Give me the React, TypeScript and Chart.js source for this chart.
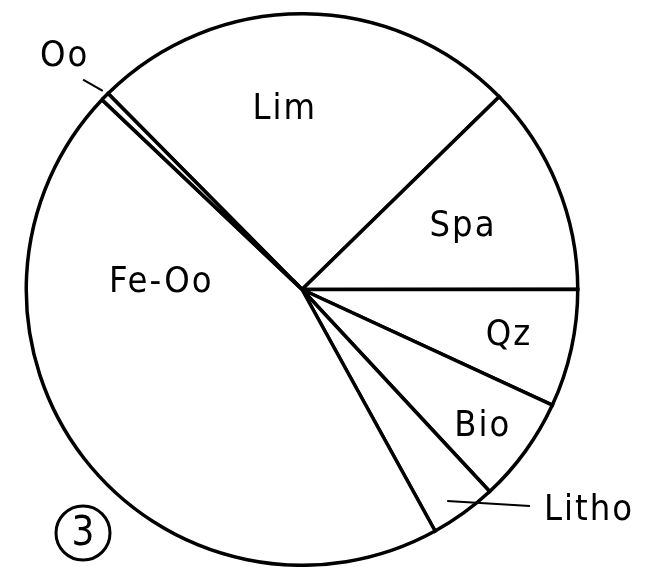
import React, { useEffect, useRef } from "react";
import { Chart, registerables } from "chart.js";

Chart.register(...registerables);

const categories = ["Lim", "Spa", "Qz", "Bio", "Litho", "Fe-Oo", "Oo"];
const values = [25.1, 12.3, 6.9, 6.2, 3.9, 45.1, 0.5];
const figureNumber = "3";

// label placement (offset from slice mid-angle in degrees, radius fraction)
const labelPlacement: Record<string, { dA: number; r: number; leader?: [number, number, number, number] }> = {
  Lim: { dA: -6.2, r: 0.66 },
  Spa: { dA: 0.4, r: 0.625 },
  Qz: { dA: 0, r: 0.765 },
  Bio: { dA: 1.1, r: 0.817 },
  "Fe-Oo": { dA: 40.8, r: 0.515 },
  Oo: { dA: 0, r: 1.21, leader: [-0.6, 1.1, 0.5, 1.02] },
  Litho: { dA: -16.5, r: 1.31, leader: [-10.6, 1.14, 1.4, 0.93] },
};

const FONT = '36px "DejaVu Sans Condensed", "DejaVu Sans", sans-serif';

const labelsPlugin = {
  id: "sliceLabels",
  afterDatasetsDraw(chart: any) {
    const ctx: CanvasRenderingContext2D = chart.ctx;
    const meta = chart.getDatasetMeta(0);
    ctx.save();
    ctx.fillStyle = "#000";
    ctx.strokeStyle = "#000";
    ctx.font = FONT;
    (ctx as any).letterSpacing = "2px";
    ctx.textAlign = "center";
    ctx.textBaseline = "middle";
    meta.data.forEach((arc: any, i: number) => {
      const name = categories[i];
      const p = labelPlacement[name];
      if (!p) return;
      const { x, y, startAngle, endAngle, outerRadius } = arc.getProps(
        ["x", "y", "startAngle", "endAngle", "outerRadius"],
        true
      );
      const mid = (startAngle + endAngle) / 2;
      const pt = (dA: number, rf: number) => {
        const a = mid + (dA * Math.PI) / 180;
        return [x + Math.cos(a) * outerRadius * rf, y + Math.sin(a) * outerRadius * rf];
      };
      const [lx, ly] = pt(p.dA, p.r);
      ctx.fillText(name, lx + 1, ly + 1);
      if (p.leader) {
        const [a1, r1, a2, r2] = p.leader;
        const [x1, y1] = pt(a1, r1);
        const [x2, y2] = pt(a2, r2);
        ctx.lineWidth = 2;
        ctx.beginPath();
        ctx.moveTo(x1, y1);
        ctx.lineTo(x2, y2);
        ctx.stroke();
      }
    });
    // figure number in a circle, bottom-left of the chart area
    const ca = chart.chartArea;
    const cx = ca.left + 59;
    const cy = ca.bottom - 34;
    ctx.lineWidth = 3;
    ctx.beginPath();
    ctx.arc(cx, cy, 27, 0, Math.PI * 2);
    ctx.stroke();
    (ctx as any).letterSpacing = "0px";
    ctx.font = '40px "DejaVu Sans Condensed", "DejaVu Sans", sans-serif';
    ctx.fillText(figureNumber, cx, cy + 2);
    ctx.restore();
  },
};

export default function App() {
  const ref = useRef<HTMLCanvasElement>(null);
  useEffect(() => {
    const chart = new Chart(ref.current!, {
      type: "pie",
      data: {
        labels: categories,
        datasets: [
          {
            data: values,
            backgroundColor: "#ffffff",
            borderColor: "#000000",
            borderWidth: 3.5,
            borderJoinStyle: "miter",
          },
        ],
      },
      options: {
        animation: false,
        responsive: true,
        maintainAspectRatio: false,
        rotation: -44.7,
        layout: { padding: { left: 24, top: 12, right: 79, bottom: 0 } },
        plugins: { legend: { display: false }, tooltip: { enabled: false } },
      },
      plugins: [labelsPlugin],
    });
    return () => chart.destroy();
  }, []);
  return (
    <div style={{ position: "fixed", left: 0, top: 0, width: 659, height: 567, background: "#fff" }}>
      <canvas ref={ref} />
    </div>
  );
}
